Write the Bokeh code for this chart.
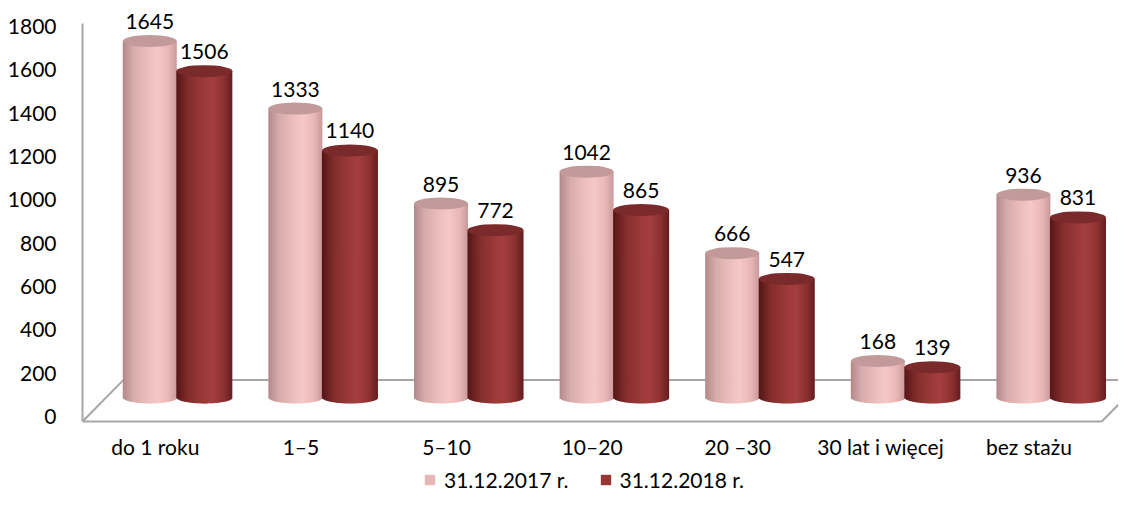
import numpy as np
from bokeh.plotting import figure
from bokeh.models import ColumnDataSource, FixedTicker, Legend, LegendItem, Range1d
from bokeh.embed import file_html
from bokeh.resources import INLINE
from bokeh.core.properties import value

# ---------------- data ----------------
categories = ["do 1 roku", "1–5", "5–10", "10–20", "20 –30", "30 lat i  więcej", "bez stażu"]
series_2017 = [1645, 1333, 895, 1042, 666, 168, 936]
series_2018 = [1506, 1140, 772, 865, 547, 139, 831]
series_names = ["31.12.2017 r.", "31.12.2018 r."]
y_ticks = [0, 200, 400, 600, 800, 1000, 1200, 1400, 1600, 1800]

# ---------------- styling / geometry constants ----------------
FONT = "Lato"
FS = "21px"
GRID = "#a6a6a6"
PINK_LEG = "#e6b9b8"
RED_LEG = "#953735"
BASE = 88          # depth offset of the bars above the front floor edge (value units)
RY = 27.7          # vertical half-axis of cylinder ellipses (value units)
FLOOR_FRONT = -23
FLOOR_BACK = 168
DEPTH_DX = 0.28
CAT_LABEL_Y = -138.5
LABEL_GAP = 90

pink_stops = [(-1.0, "#b38888"), (-0.6, "#d8acac"), (0.0, "#efc0c0"),
              (0.3, "#f6c7c7"), (0.7, "#e8b6b6"), (1.0, "#c99999")]
red_stops = [(-1.0, "#561616"), (-0.55, "#842d2d"), (0.0, "#9d3a3a"),
             (0.3, "#a43e3e"), (0.7, "#8c3030"), (1.0, "#641d1d")]


def hex2rgb(h):
    h = h.lstrip("#")
    return [int(h[i:i + 2], 16) for i in (0, 2, 4)]


def shade(stops, u):
    for (u0, c0), (u1, c1) in zip(stops[:-1], stops[1:]):
        if u0 <= u <= u1:
            t = (u - u0) / (u1 - u0)
            a, b = hex2rgb(c0), hex2rgb(c1)
            r = [round(a[k] + (b[k] - a[k]) * t) for k in range(3)]
            return "#%02x%02x%02x" % tuple(r)
    return stops[-1][1]


def strips(xs, vals, width, stops, legend_color, n=36):
    d = dict(left=[], right=[], top=[], bottom=[], color=[])
    for j, (cx, v) in enumerate(zip(xs, vals)):
        for k in range(n):
            u0 = -1 + 2 * k / n
            u1 = -1 + 2 * (k + 1) / n
            um = (u0 + u1) / 2
            u1e = min(1.0, u1 + 1.0 / n)   # overlap to hide seams
            d["left"].append(cx + u0 * width / 2)
            d["right"].append(cx + u1e * width / 2)
            d["top"].append(BASE + v)
            d["bottom"].append(BASE - RY * np.sqrt(max(0.0, 1 - um * um)))
            d["color"].append(shade(stops, um))
    # use the legend colour for one strip in the middle of the first bar's shading
    target = np.array(hex2rgb(legend_color))
    dists = [np.sum((np.array(hex2rgb(c)) - target) ** 2) for c in d["color"][:n]]
    best = int(np.argmin(dists))
    return ColumnDataSource(d), best


p = figure(width=1118, height=492, output_backend="svg", toolbar_location=None,
           x_range=Range1d(-0.5, 6.615), y_range=Range1d(-350.8, 1920.0),
           min_border_left=82, min_border_right=0, min_border_top=0, min_border_bottom=0)
p.outline_line_color = None
p.grid.visible = False
p.background_fill_color = "white"
p.xaxis.visible = False

# floor
p.line(x=[-0.5, 6.5], y=[FLOOR_FRONT, FLOOR_FRONT], line_color=GRID, line_width=2)
p.line(x=[-0.5, -0.5 + DEPTH_DX], y=[FLOOR_FRONT, FLOOR_BACK], line_color=GRID, line_width=2)
p.line(x=[-0.5 + DEPTH_DX, 6.5 + DEPTH_DX], y=[FLOOR_BACK, FLOOR_BACK], line_color=GRID, line_width=2)
p.line(x=[6.5, 6.5 + DEPTH_DX], y=[FLOOR_FRONT, FLOOR_BACK], line_color=GRID, line_width=2)

idx = np.arange(len(categories))
x17 = idx - 0.038
x18 = idx + 0.3365
w17, w18 = 0.371, 0.385

legend_items = []
for name, xs, vals, w, stops, topc, legc in [
        (series_names[0], x17, series_2017, w17, pink_stops, "#c29a9a", PINK_LEG),
        (series_names[1], x18, series_2018, w18, red_stops, "#7a2a2a", RED_LEG)]:
    src, best = strips(xs, vals, w, stops, legc)
    r = p.quad(left="left", right="right", top="top", bottom="bottom", source=src,
               fill_color="color", line_color=None)
    legend_items.append(LegendItem(label=name, renderers=[r], index=best))
    p.ellipse(x=list(xs), y=[BASE + v for v in vals], width=w, height=2 * RY,
              fill_color=topc, line_color=None)
    p.text(x=list(xs), y=[BASE + v + LABEL_GAP for v in vals], text=[str(v) for v in vals],
           text_font=value(FONT), text_font_size=FS, text_color="black",
           text_align="center", text_baseline="middle")

# category labels (front edge of the floor)
p.text(x=list(idx), y=[CAT_LABEL_Y] * len(categories), text=categories,
       text_font=value(FONT), text_font_size=FS, text_color="black",
       text_align="center", text_baseline="middle")

legend = Legend(items=legend_items,
                orientation="horizontal", location=(341, 0),
                label_text_font=FONT, label_text_font_size=FS, label_text_color="black",
                glyph_width=13, glyph_height=13, label_standoff=8, spacing=30,
                border_line_color=None, background_fill_alpha=0, padding=0, margin=0)
p.add_layout(legend, "center")

# y axis
ya = p.yaxis[0]
ya.ticker = FixedTicker(ticks=y_ticks)
ya.bounds = (FLOOR_FRONT, 1814)
ya.axis_line_color = GRID
ya.axis_line_width = 2
ya.major_tick_line_color = None
ya.minor_tick_line_color = None
ya.major_label_standoff = 20
ya.major_label_text_font = FONT
ya.major_label_text_font_size = FS
ya.major_label_text_color = "black"

open("out.html", "w").write(file_html(p, INLINE))
